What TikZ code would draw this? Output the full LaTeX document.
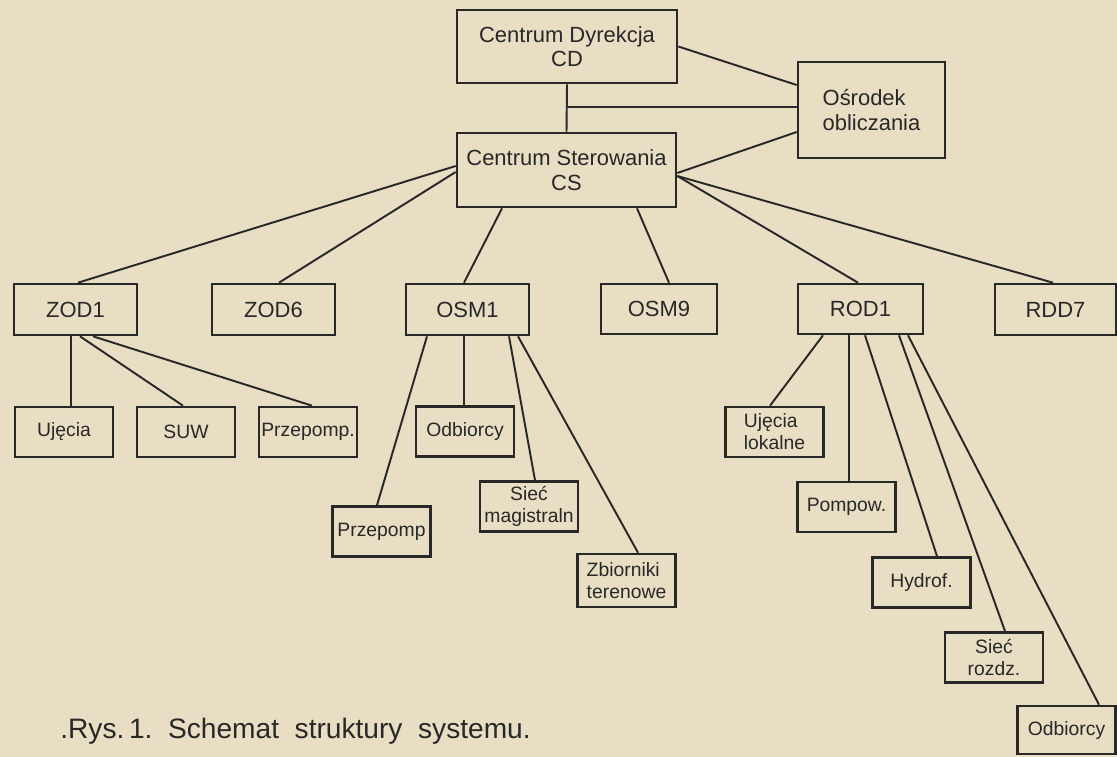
\documentclass[tikz,border=0pt]{standalone}
\usepackage{fontspec}
\setmainfont{Liberation Sans}
\usetikzlibrary{calc}
\definecolor{papier}{RGB}{232,222,196}
\definecolor{tusz}{RGB}{40,40,38}

\begin{document}
\begin{tikzpicture}[
rectnode/.style={rectangle, draw=tusz, line width=1.5pt, text=tusz, inner sep=1pt, align=center, font=\fontsize{12.5}{14}\selectfont},
smallnode/.style={rectnode, minimum width=1.96cm, minimum height=1cm, font=\fontsize{11}{12.5}\selectfont},
lacze/.style={draw=tusz, line width=1.1pt}
]
    \useasboundingbox (0,0) rectangle (22.34,-15.12);
    \fill[papier] (-0.2,0.2) rectangle (22.54,-15.32);

    \node [rectnode, minimum width=4.4cm, minimum height=1.46cm] (cd) at (11.34,-0.93) {Centrum Dyrekcja\\CD};
    \node [rectnode, minimum width=2.94cm, minimum height=1.92cm, align=left] (ob) at (17.43,-2.2) {Ośrodek\\obliczania};
    \node [rectnode, minimum width=4.38cm, minimum height=1.48cm] (cs) at (11.33,-3.4) {Centrum Sterowania\\CS};

    \node [rectnode, minimum width=2.46cm, minimum height=1.02cm] (zod1) at (1.51,-6.19) {ZOD1};
    \node [rectnode, minimum width=2.46cm, minimum height=1.02cm] (zod6) at (5.47,-6.19) {ZOD6};
    \node [rectnode, minimum width=2.46cm, minimum height=1.02cm] (osm1) at (9.35,-6.19) {OSM1};
    \node [rectnode, minimum width=2.32cm, minimum height=1cm] (osm9) at (13.18,-6.18) {OSM9};
    \node [rectnode, minimum width=2.5cm, minimum height=1cm] (rod1) at (17.21,-6.18) {ROD1};
    \node [rectnode, minimum width=2.42cm, minimum height=1.02cm] (rdd7) at (21.11,-6.19) {RDD7};

    \node [smallnode] (ujecia) at (1.28,-8.64) {Ujęcia};
    \node [smallnode] (suw) at (3.72,-8.64) {SUW};
    \node [smallnode] (przep1) at (6.16,-8.64) {Przepomp.};

    \node [smallnode] (odb1) at (9.3,-8.63) {Odbiorcy};
    \node [smallnode] (przep2) at (7.63,-10.63) {Przepomp};
    \node [smallnode] (siecm) at (10.58,-10.13) {Sieć\\magistraln};
    \node [smallnode, minimum height=1.06cm, align=left] (zbior) at (12.53,-11.61) {Zbiorniki\\terenowe};

    \node [smallnode, align=left] (ujlok) at (15.49,-8.64) {Ujęcia\\lokalne};
    \node [smallnode] (pomp) at (16.93,-10.14) {Pompow.};
    \node [smallnode] (hydr) at (18.43,-11.65) {Hydrof.};
    \node [smallnode] (siecr) at (19.88,-13.15) {Sieć\\rozdz.};
    \node [smallnode, minimum height=0.96cm] (odb2) at (21.33,-14.6) {Odbiorcy};

    % gora
    \draw [lacze] (cd.south) edge (cs.north);
    \coordinate (mid) at ($(cd.south)!0.48!(cs.north)$);
    \draw [lacze] (mid) edge (mid -| ob.west);
    \draw [lacze] (cd.east) edge ([yshift=0.5cm]ob.west);
    \draw [lacze] ([yshift=-0.06cm]cs.east) edge ([yshift=-0.44cm]ob.west);

    % CS - oddzialy
    \draw [lacze] ([yshift=0.08cm]cs.west) edge ([xshift=0.05cm]zod1.north);
    \draw [lacze] ([yshift=-0.04cm]cs.west) edge ([xshift=0.11cm]zod6.north);
    \draw [lacze] ([xshift=-1.29cm]cs.south) edge ([xshift=-0.07cm]osm1.north);
    \draw [lacze] ([xshift=1.41cm]cs.south) edge ([xshift=0.2cm]osm9.north);
    \draw [lacze] ([yshift=-0.12cm]cs.east) edge ([xshift=-0.05cm]rod1.north);
    \draw [lacze] ([yshift=-0.12cm]cs.east) edge ([xshift=-0.05cm]rdd7.north);

    % ZOD1
    \draw [lacze] ([xshift=-0.09cm]zod1.south) edge ([xshift=-0.09cm]zod1.south |- ujecia.north);
    \draw [lacze] ([xshift=0.09cm]zod1.south) edge ([xshift=-0.06cm]suw.north);
    \draw [lacze] ([xshift=0.35cm]zod1.south) edge ([xshift=0.08cm]przep1.north);

    % OSM1
    \draw [lacze] ([xshift=-0.81cm]osm1.south) edge ([xshift=-0.09cm]przep2.north);
    \draw [lacze] ([xshift=-0.07cm]osm1.south) edge ([xshift=-0.07cm]osm1.south |- odb1.north);
    \draw [lacze] ([xshift=0.83cm]osm1.south) edge ([xshift=0.12cm]siecm.north);
    \draw [lacze] ([xshift=1.01cm]osm1.south) edge ([xshift=0.23cm]zbior.north);

    % ROD1
    \draw [lacze] ([xshift=-0.75cm]rod1.south) edge ([xshift=-0.09cm]ujlok.north);
    \draw [lacze] ([xshift=-0.23cm]rod1.south) edge ([xshift=-0.23cm]rod1.south |- pomp.north);
    \draw [lacze] ([xshift=0.09cm]rod1.south) edge ([xshift=0.31cm]hydr.north);
    \draw [lacze] ([xshift=0.77cm]rod1.south) edge ([xshift=0.22cm]siecr.north);
    \draw [lacze] ([xshift=0.95cm]rod1.south) edge ([xshift=0.65cm]odb2.north);

    \node [anchor=base west, text=tusz, font=\fontsize{16}{18}\selectfont, inner sep=0pt] (podpis) at (1.2,-14.76) {.Rys.\,1.\ \ Schemat\ \ struktury\ \ systemu.};
\end{tikzpicture}
\end{document}
